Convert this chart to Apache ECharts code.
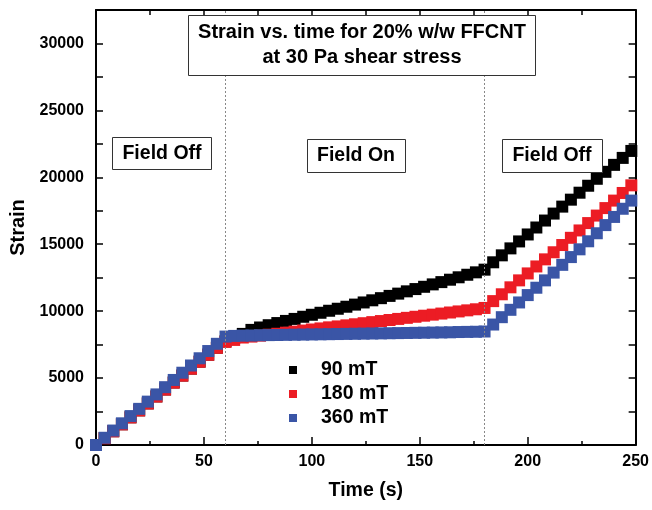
<!DOCTYPE html>
<html>
<head>
    <meta charset="UTF-8">
    <script src="https://cdn.jsdelivr.net/npm/echarts@6/dist/echarts.min.js"></script>
    <title>Strain vs. time</title>
    <style>
        html, body { margin: 0; padding: 0; background: #fff; }
        #box { width: 652px; height: 510px; }
    </style>
</head>
<body>
    <div id="box"></div>
    <script>
        // time (s)
        var times = [0, 4, 8, 12, 16, 20, 24, 28, 32, 36, 40, 44, 48, 52, 56, 60,
            64, 68, 72, 76, 80, 84, 88, 92, 96, 100, 104, 108, 112, 116, 120, 124, 128, 132, 136, 140,
            144, 148, 152, 156, 160, 164, 168, 172, 176, 180,
            184, 188, 192, 196, 200, 204, 208, 212, 216, 220, 224, 228, 232, 236, 240, 244, 248]

        var strain90 = [0, 510, 1030, 1550, 2070, 2590, 3110, 3630, 4150, 4670, 5190, 5710, 6230, 6750, 7270, 7750,
            8000, 8300, 8600, 8780, 8950, 9110, 9270, 9420, 9580, 9730, 9880, 10030, 10180, 10330, 10490, 10650, 10810, 10970, 11140, 11310,
            11480, 11650, 11820, 12000, 12170, 12350, 12530, 12720, 12900, 13100,
            13650, 14170, 14690, 15210, 15730, 16250, 16770, 17290, 17810, 18330, 18850, 19370, 19890, 20410, 20930, 21450, 21970]

        var strain180 = [0, 500, 1020, 1540, 2060, 2580, 3100, 3620, 4140, 4660, 5180, 5700, 6220, 6740, 7260, 7700,
            7850, 8030, 8100, 8170, 8240, 8310, 8390, 8470, 8550, 8630, 8710, 8790, 8860, 8940, 9020, 9100, 9180, 9260, 9340, 9420,
            9500, 9580, 9660, 9740, 9820, 9900, 9980, 10060, 10140, 10240,
            10750, 11260, 11780, 12300, 12820, 13340, 13870, 14400, 14940, 15480, 16030, 16580, 17140, 17700, 18260, 18830, 19400]

        var strain360 = [0, 540, 1080, 1620, 2160, 2700, 3240, 3780, 4320, 4860, 5400, 5940, 6480, 7020, 7560, 8100,
            8150, 8170, 8180, 8200, 8210, 8220, 8230, 8240, 8250, 8260, 8270, 8280, 8290, 8300, 8310, 8320, 8330, 8340, 8350, 8360,
            8370, 8380, 8390, 8400, 8410, 8420, 8440, 8450, 8460, 8480,
            9000, 9550, 10100, 10650, 11200, 11750, 12300, 12880, 13460, 14040, 14620, 15220, 15820, 16430, 17040, 17650, 18260]

        var seriesNames = ['90 mT', '180 mT', '360 mT']
        var fieldSwitch = [60, 180]
        var xTicks = [0, 50, 100, 150, 200, 250]
        var yTicks = [0, 5000, 10000, 15000, 20000, 25000, 30000]

        var font = "'Liberation Sans', Arial, sans-serif"
        var mychart = echarts.init(document.getElementById('box'))

        function pairs(ys) {
            return times.map(function (t, i) { return [t, ys[i]] })
        }

        /* 坐标轴公共样式 */
        var lineBlack = { show: true, onZero: false, lineStyle: { color: '#000', width: 2 } }

        var option = {
            animation: false,
            grid: { left: 96, right: 16, top: 10, bottom: 65 },
            legend: {
                orient: 'vertical',
                left: 284,
                top: 355,
                itemWidth: 46,
                itemHeight: 8,
                itemGap: 4,
                icon: 'path://M0,0H1V1H0Z',
                data: seriesNames,
                textStyle: { fontFamily: font, fontWeight: 'bold', fontSize: 19.5, color: '#000' }
            },
            xAxis: [{
                type: 'value',
                min: 0, max: 250, interval: 50,
                name: 'Time (s)',
                nameLocation: 'middle',
                nameGap: 36,
                nameTextStyle: { fontFamily: font, fontWeight: 'bold', fontSize: 19.5, color: '#000' },
                axisLine: lineBlack,
                axisTick: { inside: true, length: 8, lineStyle: { color: '#000', width: 1.5 } },
                minorTick: { show: true, splitNumber: 2, length: 4, lineStyle: { color: '#000', width: 1.5 } },
                axisLabel: {
                    margin: 9, fontFamily: font, fontWeight: 'bold', fontSize: 16, color: '#000',
                    formatter: function (v) { return xTicks.indexOf(v) >= 0 ? v : '' }
                },
                splitLine: { show: false }
            }, {
                type: 'value',
                position: 'top',
                min: 0, max: 250, interval: 25,
                axisLine: lineBlack,
                axisTick: { inside: true, length: 5, lineStyle: { color: '#000', width: 1.5 } },
                axisLabel: { show: false },
                splitLine: { show: false }
            }],
            yAxis: [{
                type: 'value',
                min: 0, max: 32500, interval: 2500,
                name: 'Strain',
                nameLocation: 'middle',
                nameGap: 66,
                nameTextStyle: { fontFamily: font, fontWeight: 'bold', fontSize: 20, color: '#000' },
                axisLine: lineBlack,
                axisTick: { inside: true, length: 7, lineStyle: { color: '#000', width: 1.5 } },
                axisLabel: {
                    margin: 12, fontFamily: font, fontWeight: 'bold', fontSize: 16, color: '#000',
                    formatter: function (v) { return yTicks.indexOf(v) >= 0 ? v : '' }
                },
                splitLine: { show: false }
            }, {
                type: 'value',
                position: 'right',
                min: 0, max: 32500, interval: 2500,
                axisLine: lineBlack,
                axisTick: { inside: true, length: 7, lineStyle: { color: '#000', width: 1.5 } },
                axisLabel: { show: false },
                splitLine: { show: false }
            }],
            series: [{
                name: seriesNames[0],
                type: 'scatter',
                symbol: 'rect',
                symbolSize: 12,
                itemStyle: { color: '#000000', opacity: 1 },
                data: pairs(strain90),
                markLine: {
                    silent: true,
                    symbol: ['none', 'none'],
                    label: { show: false },
                    lineStyle: { color: '#888', type: [2, 2], width: 1 },
                    data: fieldSwitch.map(function (t) { return { xAxis: t } })
                }
            }, {
                name: seriesNames[1],
                type: 'scatter',
                symbol: 'rect',
                symbolSize: 12,
                itemStyle: { color: '#ec1c24', opacity: 1 },
                data: pairs(strain180)
            }, {
                name: seriesNames[2],
                type: 'scatter',
                symbol: 'rect',
                symbolSize: 12,
                itemStyle: { color: '#3a55a6', opacity: 1 },
                data: pairs(strain360)
            }],
            /* 标题框和 Field 标注 */
            graphic: [
                { type: 'rect', z: 100, shape: { x: 188.5, y: 15.5, width: 347, height: 60 },
                  style: { fill: '#fff', stroke: '#333', lineWidth: 1 } },
                { type: 'text', z: 101, x: 362, y: 45,
                  style: { text: 'Strain vs. time for 20% w/w FFCNT\nat 30 Pa shear stress', align: 'center', verticalAlign: 'middle',
                           lineHeight: 25, font: 'bold 20px ' + font, fill: '#000' } },
                { type: 'rect', z: 100, shape: { x: 112.5, y: 137.5, width: 99, height: 32 },
                  style: { fill: '#fff', stroke: '#333', lineWidth: 1 } },
                { type: 'text', z: 101, x: 162, y: 154,
                  style: { text: 'Field Off', align: 'center', verticalAlign: 'middle', font: 'bold 19.5px ' + font, fill: '#000' } },
                { type: 'rect', z: 100, shape: { x: 307.5, y: 139.5, width: 98, height: 33 },
                  style: { fill: '#fff', stroke: '#333', lineWidth: 1 } },
                { type: 'text', z: 101, x: 356, y: 156,
                  style: { text: 'Field On', align: 'center', verticalAlign: 'middle', font: 'bold 19.5px ' + font, fill: '#000' } },
                { type: 'rect', z: 100, shape: { x: 502.5, y: 139.5, width: 100, height: 33 },
                  style: { fill: '#fff', stroke: '#333', lineWidth: 1 } },
                { type: 'text', z: 101, x: 552, y: 156,
                  style: { text: 'Field Off', align: 'center', verticalAlign: 'middle', font: 'bold 19.5px ' + font, fill: '#000' } }
            ]
        }

        mychart.setOption(option)
    </script>
</body>
</html>
